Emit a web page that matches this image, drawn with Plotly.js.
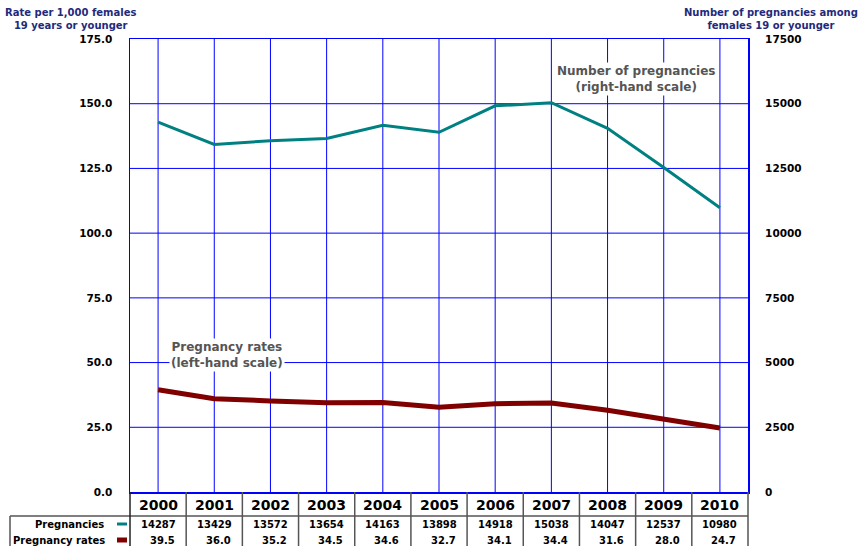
<!DOCTYPE html>
<html>
<head>
<meta charset="utf-8">
<script src="https://cdn.plot.ly/plotly-3.0.1.min.js"></script>
<style>
html,body{margin:0;padding:0;background:#fff;}
#chart{width:860px;height:546px;}
#chart .gridlayer path{shape-rendering:geometricPrecision !important;}
</style>
</head>
<body>
<div id="chart"></div>
<script>
// ---- data ----
var years = ['2000','2001','2002','2003','2004','2005','2006','2007','2008','2009','2010'];
var pregnancies = [14287, 13429, 13572, 13654, 14163, 13898, 14918, 15038, 14047, 12537, 10980];
var rates = [39.5, 36.0, 35.2, 34.5, 34.6, 32.7, 34.1, 34.4, 31.6, 28.0, 24.7];
var rowLabels = ['Pregnancies', 'Pregnancy rates'];

var TEAL = '#008080', RED = '#800000', BLUE = '#0000ff', NAVY = '#1f2a7c', GRAY = '#555555';
var FONT = 'DejaVu Sans, Verdana, sans-serif';

var traces = [
  {x: years, y: rates, type: 'scatter', mode: 'lines', yaxis: 'y',
   line: {color: RED, width: 5}, name: rowLabels[1], hoverinfo: 'skip'},
  {x: years, y: pregnancies, type: 'scatter', mode: 'lines', yaxis: 'y2',
   line: {color: TEAL, width: 3}, name: rowLabels[0], hoverinfo: 'skip'}
];

// table geometry (paper coordinates): plot area height 453 px, width 618 px
var H = 453, W = 618;
function py(px) { return (492 - px) / H; }   // page y -> paper y
function pxp(px) { return (px - 130) / W; }  // page x -> paper x

var annotations = [];
var shapes = [];

years.forEach(function (yr, i) {
  // category axes take the category's serial index for annotation positions
  annotations.push({x: i, xref: 'x', y: py(505), yref: 'paper', text: '<b>' + yr + '</b>',
    showarrow: false, yanchor: 'middle', font: {family: FONT, size: 14, color: '#000'}});
  annotations.push({x: i, xref: 'x', y: py(524), yref: 'paper', text: '<b>' + pregnancies[i] + '</b>',
    showarrow: false, yanchor: 'middle', font: {family: FONT, size: 10, color: '#000'}});
  annotations.push({x: i, xref: 'x', y: py(540), yref: 'paper', text: '<b>' + rates[i].toFixed(1) + '</b>',
    showarrow: false, yanchor: 'middle', xshift: 4, font: {family: FONT, size: 10, color: '#000'}});
  if (i < years.length - 1) {
    shapes.push({type: 'line', xref: 'x', yref: 'paper', x0: i + 0.5, x1: i + 0.5, y0: 0, y1: py(548),
      line: {color: GRAY, width: 1.5}});
  }
});

// row labels
annotations.push({x: pxp(106), xref: 'paper', y: py(524), yref: 'paper', text: '<b>' + rowLabels[0] + '</b>',
  showarrow: false, xanchor: 'right', yanchor: 'middle', font: {family: FONT, size: 10, color: '#000'}});
annotations.push({x: pxp(107), xref: 'paper', y: py(540), yref: 'paper', text: '<b>' + rowLabels[1] + '</b>',
  showarrow: false, xanchor: 'right', yanchor: 'middle', font: {family: FONT, size: 10, color: '#000'}});

// legend swatches
shapes.push({type: 'line', xref: 'paper', yref: 'paper', x0: pxp(117), x1: pxp(127), y0: py(524), y1: py(524),
  line: {color: TEAL, width: 3}});
shapes.push({type: 'line', xref: 'paper', yref: 'paper', x0: pxp(117), x1: pxp(127), y0: py(540), y1: py(540),
  line: {color: RED, width: 5}});

// table borders
shapes.push({type: 'line', xref: 'paper', yref: 'paper', x0: pxp(10), x1: 1, y0: py(516), y1: py(516),
  line: {color: GRAY, width: 1.5}});
shapes.push({type: 'line', xref: 'paper', yref: 'paper', x0: pxp(10), x1: pxp(10), y0: py(516), y1: py(548),
  line: {color: GRAY, width: 1.5}});
shapes.push({type: 'line', xref: 'paper', yref: 'paper', x0: 0, x1: 0, y0: 0, y1: py(548),
  line: {color: '#222', width: 1.5}});
shapes.push({type: 'line', xref: 'paper', yref: 'paper', x0: 1, x1: 1, y0: 0, y1: py(548),
  line: {color: GRAY, width: 1.5}});

// axis titles
annotations.push({x: pxp(70), xref: 'paper', y: py(19), yref: 'paper',
  text: '<b>Rate per 1,000 females<br>19 years or younger</b>', showarrow: false, align: 'center',
  xanchor: 'center', yanchor: 'middle', font: {family: FONT, size: 10, color: NAVY}});
annotations.push({x: pxp(771), xref: 'paper', y: py(19), yref: 'paper',
  text: '<b>Number of pregnancies among<br>females 19 or younger</b>', showarrow: false, align: 'center',
  xanchor: 'center', yanchor: 'middle', font: {family: FONT, size: 10, color: NAVY}});

// in-plot labels
annotations.push({x: pxp(636), xref: 'paper', y: py(79), yref: 'paper',
  text: '<b>Number of pregnancies<br>(right-hand scale)</b>', showarrow: false, align: 'center',
  xanchor: 'center', yanchor: 'middle', bgcolor: '#fff', font: {family: FONT, size: 12, color: GRAY}});
annotations.push({x: pxp(227), xref: 'paper', y: py(355), yref: 'paper',
  text: '<b>Pregnancy rates<br>(left-hand scale)</b>', showarrow: false, align: 'center',
  xanchor: 'center', yanchor: 'middle', bgcolor: '#fff', font: {family: FONT, size: 12, color: GRAY}});

var layout = {
  width: 860, height: 546,
  margin: {l: 130, r: 112, t: 39, b: 54, pad: 0},
  paper_bgcolor: '#fff', plot_bgcolor: '#fff',
  showlegend: false,
  font: {family: FONT, color: '#000'},
  xaxis: {
    type: 'category', range: [-0.5, 10.5], showticklabels: false, ticks: '',
    showgrid: true, gridcolor: BLUE, gridwidth: 1,
    showline: true, linecolor: BLUE, linewidth: 1.5, mirror: true, zeroline: false, fixedrange: true
  },
  yaxis: {
    range: [0, 175], dtick: 25, tick0: 0, tickformat: '.1f',
    showgrid: true, gridcolor: BLUE, gridwidth: 1, zeroline: false,
    showline: true, linecolor: BLUE, linewidth: 1.5, mirror: true,
    ticks: 'outside', ticklen: 14, tickcolor: 'rgba(0,0,0,0)',
    tickfont: {family: FONT, size: 10.5, color: '#000', weight: 'bold'}
  },
  yaxis2: {
    overlaying: 'y', side: 'right', range: [0, 17500], dtick: 2500, tick0: 0, tickformat: 'd',
    showgrid: false, zeroline: false, showline: false,
    ticks: 'outside', ticklen: 14, tickcolor: 'rgba(0,0,0,0)',
    tickfont: {family: FONT, size: 10.5, color: '#000', weight: 'bold'}
  },
  annotations: annotations,
  shapes: shapes
};

Plotly.newPlot('chart', traces, layout, {staticPlot: true});
</script>
</body>
</html>
